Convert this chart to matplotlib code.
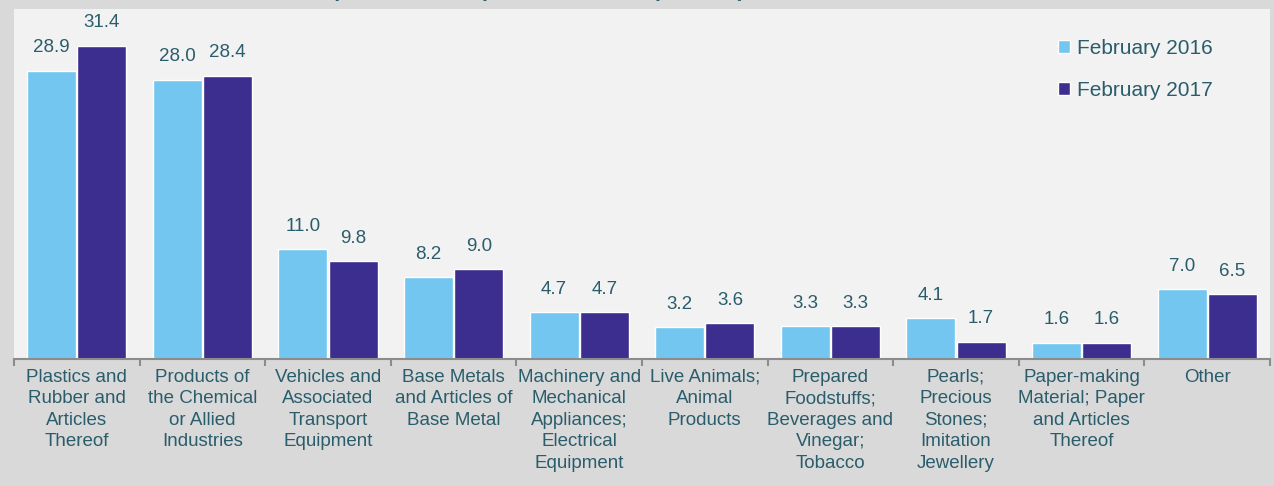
import numpy as np
import matplotlib
matplotlib.use('Agg')
import matplotlib.pyplot as plt

plt.rcParams['font.family'] = ['Liberation Sans', 'DejaVu Sans']

categories = [
    'Plastics and\nRubber and\nArticles\nThereof',
    'Products of\nthe Chemical\nor Allied\nIndustries',
    'Vehicles and\nAssociated\nTransport\nEquipment',
    'Base Metals\nand Articles of\nBase Metal',
    'Machinery and\nMechanical\nAppliances;\nElectrical\nEquipment',
    'Live Animals;\nAnimal\nProducts',
    'Prepared\nFoodstuffs;\nBeverages and\nVinegar;\nTobacco',
    'Pearls;\nPrecious\nStones;\nImitation\nJewellery',
    'Paper-making\nMaterial; Paper\nand Articles\nThereof',
    'Other',
]
feb_2016 = [28.9, 28.0, 11.0, 8.2, 4.7, 3.2, 3.3, 4.1, 1.6, 7.0]
feb_2017 = [31.4, 28.4, 9.8, 9.0, 4.7, 3.6, 3.3, 1.7, 1.6, 6.5]
series_names = ['February 2016', 'February 2017']

text_col = '#2a5d6b'
light = '#72c6ef'
dark = '#3c2e8e'

fig = plt.figure(figsize=(12.74, 4.86), dpi=100, facecolor='#d9d9d9')
ax = fig.add_axes([14/1274, 1 - 359/486, 1256/1274, 350/486])
ax.set_facecolor('#f2f2f2')

x = np.arange(len(categories))
w = 0.39
b1 = ax.bar(x - 0.2, feb_2016, w, color=light, edgecolor='white', linewidth=1, label=series_names[0])
b2 = ax.bar(x + 0.2, feb_2017, w, color=dark, edgecolor='white', linewidth=1, label=series_names[1])

for bars in (b1, b2):
    for r in bars:
        ax.annotate(f'{r.get_height():.1f}', (r.get_x() + r.get_width()/2, r.get_height()),
                    xytext=(0, 10.5), textcoords='offset points', ha='center', va='bottom',
                    fontsize=13.5, color=text_col)

ax.set_xlim(-0.5, len(categories) - 0.5)
ax.set_ylim(0, 35.1)
ax.set_yticks([])
ax.set_xticks(x)
ax.set_xticklabels(categories, fontsize=13.5, color=text_col, linespacing=1.35)
ax.set_xticks(np.arange(-0.5, len(categories)), minor=True)
ax.tick_params(axis='x', which='major', length=0, pad=7)
ax.tick_params(axis='x', which='minor', length=5, width=1.5, color='#8c8c8c', direction='out')
for s in ['top', 'right', 'left']:
    ax.spines[s].set_visible(False)
ax.spines['bottom'].set_color('#8c8c8c')
ax.spines['bottom'].set_linewidth(1.5)

leg = fig.legend(loc='upper left', bbox_to_anchor=(1058/1274, 1 - 39/486), frameon=False,
                 fontsize=15, handlelength=0.58, handleheight=0.58, handletextpad=0.35,
                 labelspacing=1.1, borderpad=0, borderaxespad=0)
for t in leg.get_texts():
    t.set_color(text_col)

fig.text(745/1274, 1 + 3/486, 'Import Structure (Share of Total Imports, %)', ha='right',
         va='baseline', fontsize=15, fontweight='bold', color=text_col)

fig.savefig('out.png', dpi=100, facecolor=fig.get_facecolor())
